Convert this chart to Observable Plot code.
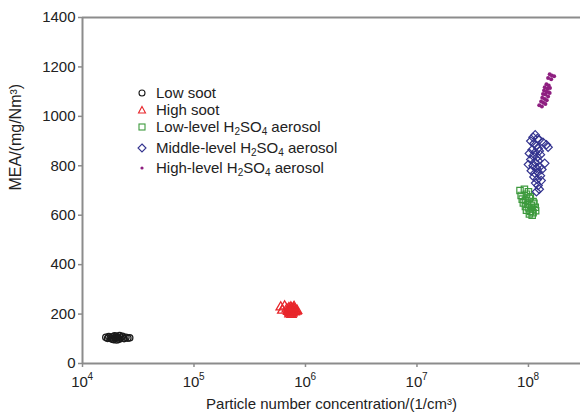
<!DOCTYPE html>
<html>
<head>
<meta charset="utf-8">
<script src="https://cdn.jsdelivr.net/npm/d3@7"></script>
<script src="https://cdn.jsdelivr.net/npm/@observablehq/plot@0.6"></script>
<style>
  body { margin: 0; background: #fff; }
  #wrap { position: relative; width: 580px; height: 416px; overflow: hidden; font-family: "Liberation Sans", Arial, sans-serif; }
  .lg { position: absolute; left: 136px; height: 16px; font-size: 15px; color: #222; white-space: nowrap; line-height: 16px; }
  .lg svg { position: absolute; left: 0; top: 2px; }
  .lg span { position: absolute; left: 20px; top: 0; }
  .lg sub { font-size: 10px; vertical-align: -3px; line-height: 0; }
</style>
</head>
<body>
<div id="wrap"></div>
<script>
// ---- data ----
const xTicks = [1e4, 1e5, 1e6, 1e7, 1e8];
const yTicks = [0, 200, 400, 600, 800, 1000, 1200, 1400];

const lowSootX = [1.62,1.68,1.72,1.78,1.82,1.86,1.9,1.94,1.98,2.02,2.06,2.1,2.15,2.2,2.28,2.36,2.45,2.55,2.65,1.88,2.0,2.12].map(v => v * 1e4);
const lowSootY = [106,102,109,104,100,108,97,112,103,95,107,100,113,104,110,101,106,103,104,99,110,98];

const highSootX = [6.0,6.2,6.5,6.8,7.0,7.1,7.2,7.3,7.4,7.5,7.6,7.7,7.8,7.9,8.0,8.1,8.3,7.2,7.4,7.6,7.8,7.0,7.5,7.9,8.4].map(v => v * 1e5);
const highSootY = [228,215,232,220,210,225,205,218,212,222,207,215,210,220,208,213,211,200,228,203,225,215,198,230,214];

const lowAcidX = [8.4,9.2,10.0,8.6,9.6,10.4,8.8,9.4,10.2,11.0,9.0,9.8,10.6,11.2,9.4,10.0,10.8,11.5,9.6,10.4,11.0,11.6,10.2,10.8].map(v => v * 1e7);
const lowAcidY = [700,705,695,680,685,675,665,660,668,655,650,645,640,648,635,630,625,632,620,615,610,618,605,600];

const midAcidX = [1.15,1.10,1.20,1.25,1.35,1.45,1.50,1.05,1.12,1.18,1.22,1.08,1.15,1.25,1.02,1.10,1.20,1.28,1.05,1.14,1.22,1.00,1.10,1.18,1.26,1.06,1.14,1.22,1.32,1.12,1.20,1.28,1.16,1.22,1.25,1.18,1.30,1.40].map(v => v * 1e8);
const midAcidY = [925,915,910,905,895,885,875,900,890,880,870,865,855,860,850,840,835,845,825,815,820,805,800,790,795,780,770,775,785,755,745,760,730,720,705,695,740,810];

const highAcidX = [1.55,1.62,1.70,1.50,1.60,1.45,1.52,1.40,1.48,1.56,1.38,1.45,1.52,1.35,1.42,1.50,1.33,1.40,1.46,1.30,1.36,1.42,1.25,1.32,1.55].map(v => v * 1e8);
const highAcidY = [1170,1165,1162,1155,1150,1130,1125,1118,1112,1115,1105,1100,1098,1090,1088,1080,1075,1070,1065,1060,1055,1050,1045,1040,1095];

const seriesNames = ["Low soot", "High soot", "Low-level H2SO4 aerosol", "Middle-level H2SO4 aerosol", "High-level H2SO4 aerosol"];
const colors = ["#1a1a1a", "#e8262b", "#3d9a3d", "#34348f", "#8e1f80"];

const zip = (xs, ys) => xs.map((x, i) => ({x, y: ys[i]}));
const lowSoot = zip(lowSootX, lowSootY);
const highSoot = zip(highSootX, highSootY);
const lowAcid = zip(lowAcidX, lowAcidY);
const midAcid = zip(midAcidX, midAcidY);
const highAcid = zip(highAcidX, highAcidY);

const axisColor = "#8c8c8c";

const chart = Plot.plot({
  width: 580,
  height: 416,
  marginLeft: 82,
  marginTop: 17,
  marginBottom: 53,
  marginRight: 0,
  x: {type: "log", domain: [1e4, 2.93e8]},
  y: {domain: [0, 1400]},
  style: {fontFamily: "Liberation Sans, Arial, sans-serif", fontSize: "14px", color: "#222", background: "#fff"},
  marks: [
    Plot.axisY({ticks: yTicks, tickSize: 4, tickPadding: 3, fontSize: 15, tickFormat: d => String(d), label: null, stroke: axisColor, strokeWidth: 1.5}),
    Plot.axisX({ticks: xTicks, tickSize: 4, tickFormat: () => "", label: null, stroke: axisColor, strokeWidth: 1.5}),
    Plot.text(xTicks, {x: d => d, y: 0, text: () => "10", dy: 19, dx: -3, fontSize: 15, fill: "#222"}),
    Plot.text(xTicks, {x: d => d, y: 0, text: d => String(Math.round(Math.log10(d))), dy: 13, dx: 5, fontSize: 10, textAnchor: "start", fill: "#222"}),
    Plot.ruleY([0], {stroke: axisColor, strokeWidth: 2}),
    Plot.ruleY([1400], {stroke: axisColor, strokeWidth: 2}),
    Plot.ruleX([1e4], {stroke: axisColor, strokeWidth: 2}),
    Plot.text(["Particle number concentration/(1/cm³)"], {frameAnchor: "bottom", dy: 45, fontSize: 15, fill: "#222"}),
    Plot.text(["MEA/(mg/Nm³)"], {frameAnchor: "left", dx: -67, rotate: -90, fontSize: 16, fill: "#222"}),
    Plot.dot(lowSoot, {x: "x", y: "y", symbol: "circle", r: 3.2, stroke: colors[0], strokeWidth: 1.3, fill: "none"}),
    Plot.dot(highSoot, {x: "x", y: "y", symbol: "triangle", r: 3.5, stroke: colors[1], strokeWidth: 1.3, fill: "none"}),
    Plot.dot(lowAcid, {x: "x", y: "y", symbol: "square", r: 3.6, stroke: colors[2], strokeWidth: 1.2, fill: "none"}),
    Plot.dot(midAcid, {x: "x", y: "y", symbol: "diamond2", r: 3.8, stroke: colors[3], strokeWidth: 1.2, fill: "none"}),
    Plot.dot(highAcid, {x: "x", y: "y", symbol: "circle", r: 2, fill: colors[4], stroke: "none"})
  ]
});

const wrap = document.getElementById("wrap");
wrap.appendChild(chart);

// legend (HTML overlay)
const symbolsSvg = [
  `<circle cx="6" cy="6" r="3" fill="none" stroke="${colors[0]}" stroke-width="1.1"/>`,
  `<path d="M6,2.5 L9.5,9 L2.5,9 Z" fill="none" stroke="${colors[1]}" stroke-width="1.1"/>`,
  `<rect x="3" y="3" width="6" height="6" fill="none" stroke="${colors[2]}" stroke-width="1.1"/>`,
  `<path d="M6,2 L10,6 L6,10 L2,6 Z" fill="none" stroke="${colors[3]}" stroke-width="1.1"/>`,
  `<circle cx="6" cy="6" r="1.6" fill="${colors[4]}"/>`
];
const rowTops = [85, 102, 119, 140, 160];
seriesNames.forEach((name, i) => {
  const div = document.createElement("div");
  div.className = "lg";
  div.style.top = rowTops[i] + "px";
  const label = name.replace("H2SO4", "H<sub>2</sub>SO<sub>4</sub>");
  div.innerHTML = `<svg width="12" height="12">${symbolsSvg[i]}</svg><span>${label}</span>`;
  wrap.appendChild(div);
});
</script>
</body>
</html>
